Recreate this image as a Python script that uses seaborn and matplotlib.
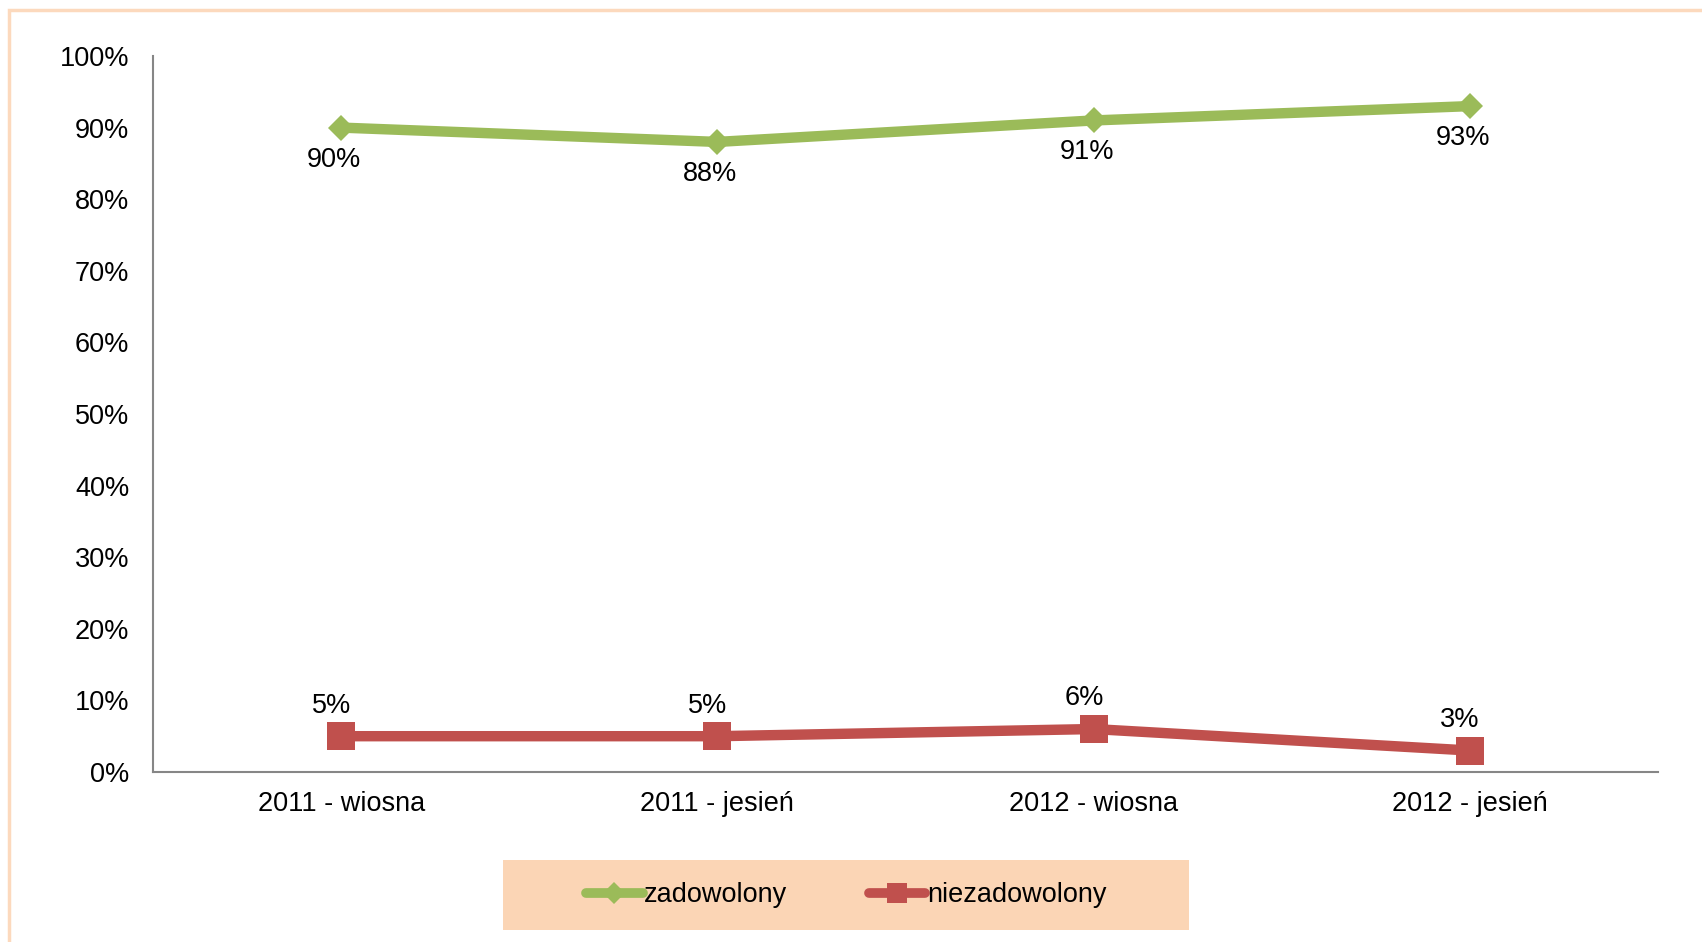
import matplotlib
matplotlib.use("Agg")
import pandas as pd
import matplotlib.pyplot as plt
import seaborn as sns
from matplotlib.patches import Rectangle
from matplotlib.lines import Line2D
from matplotlib.ticker import PercentFormatter

okresy = ["2011 - wiosna", "2011 - jesień", "2012 - wiosna", "2012 - jesień"]
zadowolony = [90, 88, 91, 93]
niezadowolony = [5, 5, 6, 3]

green = "#9BBB59"
red = "#C0504D"
peach = "#FBD5B5"
axis_gray = "#868686"

sns.set_style("white")
plt.rcParams["font.family"] = ["Liberation Sans", "DejaVu Sans"]
plt.rcParams["font.size"] = 19.5
plt.rcParams["text.color"] = "black"
plt.rcParams["xtick.labelcolor"] = "black"
plt.rcParams["ytick.labelcolor"] = "black"

df = pd.DataFrame({"okres": okresy, "zadowolony": zadowolony, "niezadowolony": niezadowolony})
df["x"] = range(len(df))

fig = plt.figure(figsize=(17.02, 9.42), dpi=100)
ax = fig.add_axes([153 / 1702, 1 - 772 / 942, (1658 - 153) / 1702, (772 - 56) / 942])

# outer frame (cut off at right and bottom like in the original)
fig.patches.append(Rectangle((9 / 1702, -0.2), 1.3, 1.2 - 10 / 942, transform=fig.transFigure,
                             fill=False, edgecolor="#FCD9BD", linewidth=2.5, zorder=0))

sns.lineplot(data=df, x="x", y="zadowolony", ax=ax, color=green, linewidth=7.5,
             marker="D", markersize=13, markeredgewidth=0)
sns.lineplot(data=df, x="x", y="niezadowolony", ax=ax, color=red, linewidth=7.5,
             marker="s", markersize=20, markeredgewidth=0)

for i, v in enumerate(zadowolony):
    ax.annotate(f"{v}%", (i, v), xytext=(-5, -23), textcoords="offset points",
                ha="center", va="center", fontsize=19.5, color="black")
for i, v in enumerate(niezadowolony):
    ax.annotate(f"{v}%", (i, v), xytext=(-7, 22), textcoords="offset points",
                ha="center", va="center", fontsize=19.5, color="black")

ax.set_xlim(-0.5, len(okresy) - 0.5)
ax.set_ylim(0, 100)
ax.set_yticks(range(0, 101, 10))
ax.yaxis.set_major_formatter(PercentFormatter(decimals=0))
ax.set_xticks(range(len(okresy)))
ax.set_xticklabels(okresy)
ax.set_xticks([i - 0.5 for i in range(len(okresy) + 1)], minor=True)
ax.tick_params(axis="x", which="major", length=0, pad=14, labelsize=19.5)
ax.tick_params(axis="x", which="minor", length=6, width=1.3, color=axis_gray, direction="out")
ax.tick_params(axis="y", length=6, width=1.3, color=axis_gray, direction="out", pad=11, labelsize=19.5)
ax.set_xlabel("")
ax.set_ylabel("")

for side in ["top", "right"]:
    ax.spines[side].set_visible(False)
for side in ["left", "bottom"]:
    ax.spines[side].set_color(axis_gray)
    ax.spines[side].set_linewidth(1.5)

# legend box
fig.patches.append(Rectangle((503 / 1702, 1 - 930 / 942), 686 / 1702, 70 / 942,
                             transform=fig.transFigure, facecolor=peach, edgecolor="none", zorder=1))
handles = [
    Line2D([], [], color=green, linewidth=7, marker="D", markersize=11, markeredgewidth=0),
    Line2D([], [], color=red, linewidth=7, marker="s", markersize=15, markeredgewidth=0),
]
leg = fig.legend(handles, ["zadowolony", "niezadowolony"], loc="center",
                 bbox_to_anchor=((503 + 343) / 1702, 1 - 895 / 942), ncol=2, frameon=False,
                 fontsize=19.5, handlelength=2.1, handletextpad=0.05, columnspacing=3.0)
leg.set_zorder(2)

fig.savefig("out.png", dpi=100)
